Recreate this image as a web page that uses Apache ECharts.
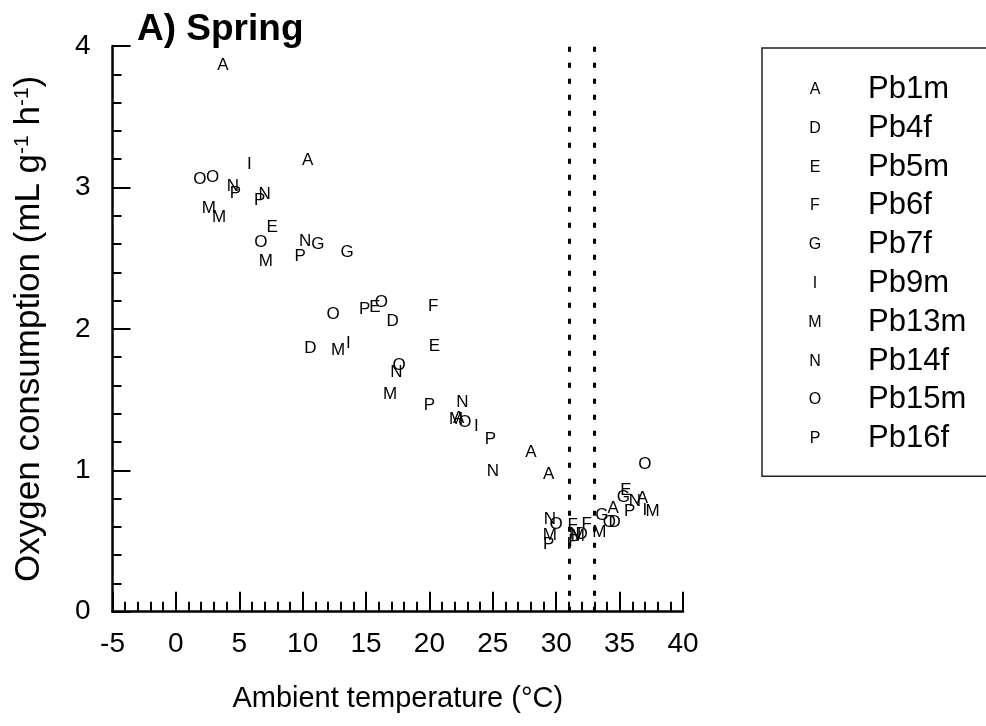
<!DOCTYPE html>
<html><head><meta charset="utf-8">
<script src="https://cdn.jsdelivr.net/npm/echarts@6/dist/echarts.min.js"></script>
<style>html,body{margin:0;padding:0;background:#fff}#c{width:986px;height:726px}</style>
</head><body><div id="c"></div>
<script>
// ---- data ----
const seriesNames   = ['Pb1m','Pb4f','Pb5m','Pb6f','Pb7f','Pb9m','Pb13m','Pb14f','Pb15m','Pb16f'];
const seriesLetters = ['A','D','E','F','G','I','M','N','O','P'];
const pb1m  = [[3.7,3.86],[10.4,3.19],[22.3,1.37],[28.0,1.13],[29.4,0.97],[34.5,0.73],[36.8,0.80]];
const pb4f  = [[10.6,1.86],[17.1,2.05],[32.0,0.55],[34.6,0.63]];
const pb5m  = [[7.6,2.72],[15.7,2.15],[20.4,1.88],[35.5,0.86]];
const pb6f  = [[20.3,2.16],[31.3,0.61],[32.4,0.62]];
const pb7f  = [[11.2,2.60],[13.5,2.54],[33.6,0.68],[35.3,0.81]];
const pb9m  = [[5.8,3.16],[13.6,1.90],[23.7,1.31],[31.0,0.48],[37.0,0.72]];
const pb13m = [[2.6,2.85],[3.4,2.79],[7.1,2.48],[12.8,1.85],[16.9,1.54],[22.1,1.36],[29.5,0.54],[31.7,0.53],[33.4,0.56],[37.6,0.71]];
const pb14f = [[4.5,3.01],[7.0,2.95],[10.2,2.62],[17.4,1.69],[22.6,1.48],[25.0,0.99],[29.5,0.65],[31.5,0.55],[36.2,0.78]];
const pb15m = [[1.9,3.06],[2.9,3.07],[6.7,2.61],[12.4,2.10],[16.2,2.19],[17.6,1.74],[22.8,1.34],[30.0,0.62],[34.2,0.63],[37.0,1.04]];
const pb16f = [[4.7,2.96],[6.6,2.91],[9.8,2.51],[14.9,2.14],[20.0,1.46],[24.8,1.22],[29.4,0.48],[31.4,0.50],[35.8,0.71]];
const seriesData = [pb1m,pb4f,pb5m,pb6f,pb7f,pb9m,pb13m,pb14f,pb15m,pb16f];
const xTicks = {min:-5, max:40, interval:5};
const yTicks = {min:0, max:4, interval:1};
const thresholdLines = [31, 33];

// ---- chart ----
const FONT = 'Liberation Sans, Arial, Helvetica, sans-serif';
const letterOf = {};
seriesNames.forEach((n,i)=>letterOf[n]=seriesLetters[i]);

const series = seriesNames.map((name,i)=>({
  name: name,
  type: 'scatter',
  data: seriesData[i],
  symbolSize: 1,
  itemStyle: {color: 'rgba(255,255,255,0)', opacity: 1},
  label: {show: true, position: 'inside', formatter: seriesLetters[i], opacity: 1,
          fontFamily: FONT, fontSize: 17, color: '#000'},
  emphasis: {disabled: true},
  z: 3
}));
series[0].markLine = {
  silent: true, symbol: ['none','none'], label: {show:false},
  lineStyle: {color:'#000', type:[5,11], width:3, cap:'butt', opacity: 1},
  data: thresholdLines.map(v=>({xAxis:v})),
  animation: false
};

const chart = echarts.init(document.getElementById('c'), null, {renderer:'canvas'});
chart.setOption({
  backgroundColor: '#fff',
  animation: false,
  title: {text: 'A) Spring', left: 132, top: 6,
    textStyle: {fontFamily: FONT, fontSize: 37, fontWeight: 'bold', color: '#000'}},
  grid: {left: 112.5, right: 303, top: 46, bottom: 114.3, containLabel: false, outerBoundsMode: 'none'},
  legend: {
    orient: 'vertical', left: 762, top: 48,
    icon: 'none', itemWidth: 0, itemHeight: 31, itemGap: 7.8,
    padding: [26, 60, 22, 36],
    borderColor: '#222', borderWidth: 1.5,
    selectedMode: false,
    data: seriesNames,
    formatter: name => '{s|' + letterOf[name] + '}{n|' + name + '}',
    textStyle: {fontFamily: FONT, color: '#000',
      rich: {
        s: {fontFamily: FONT, fontSize: 16, width: 24, align: 'center', lineHeight: 31, color:'#000'},
        n: {fontFamily: FONT, fontSize: 31, lineHeight: 31, padding: [0,0,0,41], color:'#000'}
      }}
  },
  xAxis: {
    type: 'value', min: xTicks.min, max: xTicks.max, interval: xTicks.interval,
    name: 'Ambient temperature (°C)', nameLocation: 'middle', nameGap: 73,
    nameTextStyle: {fontFamily: FONT, fontSize: 29, color: '#000'},
    axisLine: {show: true, onZero: false, lineStyle: {color: '#000', width: 2.5}},
    axisTick: {show: true, inside: true, length: 20, lineStyle: {color:'#000', width: 2}},
    minorTick: {show: true, splitNumber: 5, length: 10, lineStyle: {color:'#000', width: 2}},
    axisLabel: {fontFamily: FONT, fontSize: 28, color: '#000', margin: 19},
    splitLine: {show: false}
  },
  yAxis: {
    type: 'value', min: yTicks.min, max: yTicks.max, interval: yTicks.interval,
    name: 'Oxygen consumption (mL g{sup|-1} h{sup|-1})', nameLocation: 'middle', nameGap: 66, nameRotate: 90,
    nameTextStyle: {fontFamily: FONT, fontSize: 35, color: '#000',
      rich: {sup: {fontFamily: FONT, fontSize: 21, verticalAlign: 'top', color:'#000'}}},
    axisLine: {show: true, onZero: false, lineStyle: {color: '#000', width: 2.5}},
    axisTick: {show: true, inside: true, length: 18, lineStyle: {color:'#000', width: 2}},
    minorTick: {show: true, splitNumber: 5, length: 9, lineStyle: {color:'#000', width: 2}},
    axisLabel: {fontFamily: FONT, fontSize: 28, color: '#000', margin: 22},
    splitLine: {show: false}
  },
  series: series
});
</script></body></html>
